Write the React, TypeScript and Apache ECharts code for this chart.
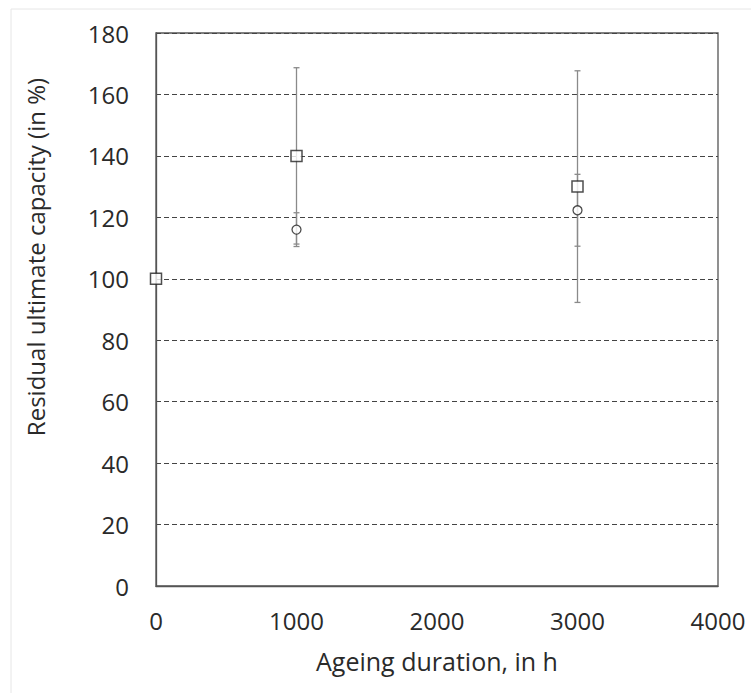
import React, { useEffect, useRef } from "react";
import * as echarts from "echarts";

const xTicks = [0, 1000, 2000, 3000, 4000];
const yTicks = [0, 20, 40, 60, 80, 100, 120, 140, 160, 180];

const squareHours = [0, 1000, 3000];
const squareValues = [100, 140, 130];
const squareErrors = [0, 28.7, 37.7];

const circleHours = [1000, 3000];
const circleValues = [116, 122.3];
const circleErrors = [5.5, 11.7];

const FONT = "Open Sans";
const TEXT = "#2a2a2a";

function errorData(xs: number[], vs: number[], es: number[]) {
  return xs
    .map((x, i) => [x, vs[i] - es[i], vs[i] + es[i]])
    .filter((d) => d[2] - d[1] > 0);
}

function renderError(params: any, api: any) {
  const x = api.value(0);
  const lo = api.coord([x, api.value(1)]);
  const hi = api.coord([x, api.value(2)]);
  const w = 3;
  const style = { stroke: "#8a8a8a", lineWidth: 1.3 };
  return {
    type: "group",
    children: [
      { type: "line", shape: { x1: lo[0], y1: lo[1], x2: hi[0], y2: hi[1] }, style },
      { type: "line", shape: { x1: lo[0] - w, y1: lo[1], x2: lo[0] + w, y2: lo[1] }, style },
      { type: "line", shape: { x1: hi[0] - w, y1: hi[1], x2: hi[0] + w, y2: hi[1] }, style },
    ],
  };
}

export default function App() {
  const ref = useRef<HTMLDivElement>(null);
  useEffect(() => {
    if (!ref.current) return;
    const chart = echarts.init(ref.current, undefined, { renderer: "svg" });
    chart.setOption({
      animation: false,
      backgroundColor: "#ffffff",
      grid: {
        left: 156,
        top: 33,
        right: 33,
        bottom: 107,
        show: true,
        borderColor: "#555555",
        borderWidth: 1.3,
      },
      graphic: [
        {
          type: "rect",
          shape: { x: 11, y: 9, width: 800, height: 800 },
          style: { fill: "none", stroke: "#e6e6e6", lineWidth: 1 },
          silent: true,
          z: -10,
        },
        {
          type: "text",
          x: 35,
          y: 257,
          rotation: Math.PI / 2,
          style: {
            text: "Residual ultimate capacity (in %)",
            fontFamily: FONT,
            fontSize: 24,
            fill: TEXT,
            align: "center",
            verticalAlign: "middle",
          },
        },
      ],
      xAxis: {
        type: "value",
        min: xTicks[0],
        max: xTicks[xTicks.length - 1],
        interval: 1000,
        name: "Ageing duration, in h",
        nameLocation: "middle",
        nameGap: 62,
        nameTextStyle: { fontFamily: FONT, fontSize: 25, color: TEXT, verticalAlign: "top" },
        axisLine: { show: true, lineStyle: { color: "#555555", width: 1.3 } },
        axisTick: { show: false },
        splitLine: { show: false },
        axisLabel: {
          fontFamily: FONT,
          fontSize: 24,
          color: TEXT,
          margin: 22,
          formatter: (v: number) => String(v),
        },
      },
      yAxis: {
        type: "value",
        min: yTicks[0],
        max: yTicks[yTicks.length - 1],
        interval: 20,
        axisLine: { show: true, lineStyle: { color: "#555555", width: 1.3 } },
        axisTick: { show: false },
        splitLine: { show: true, lineStyle: { color: "#444444", type: [5, 3], width: 1.2 } },
        axisLabel: {
          fontFamily: FONT,
          fontSize: 24,
          color: TEXT,
          margin: 27,
          formatter: (v: number) => String(v),
        },
      },
      series: [
        {
          type: "custom",
          renderItem: renderError,
          data: errorData(squareHours, squareValues, squareErrors),
          encode: { x: 0, y: [1, 2] },
          z: 2,
          silent: true,
        },
        {
          type: "custom",
          renderItem: renderError,
          data: errorData(circleHours, circleValues, circleErrors),
          encode: { x: 0, y: [1, 2] },
          z: 2,
          silent: true,
        },
        {
          type: "scatter",
          data: squareHours.map((x, i) => [x, squareValues[i]]),
          symbol: "rect",
          symbolSize: 11,
          itemStyle: { color: "#ffffff", borderColor: "#222222", borderWidth: 1.5 },
          z: 5,
        },
        {
          type: "scatter",
          data: circleHours.map((x, i) => [x, circleValues[i]]),
          symbol: "circle",
          symbolSize: 9,
          itemStyle: { color: "#ffffff", borderColor: "#222222", borderWidth: 1.3 },
          z: 5,
        },
      ],
    });
    return () => chart.dispose();
  }, []);
  return <div ref={ref} style={{ width: 751, height: 693, position: "absolute", left: 0, top: 0 }} />;
}
